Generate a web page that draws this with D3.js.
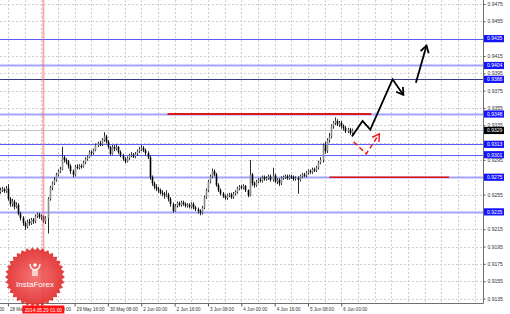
<!DOCTYPE html>
<html>
<head>
<meta charset="utf-8">
<script src="https://cdn.jsdelivr.net/npm/d3@7"></script>
<style>
  body { margin: 0; background: #fff; }
  svg { display: block; font-family: "Liberation Sans", Arial, sans-serif; }
</style>
</head>
<body>
<svg id="chart" width="510" height="314"></svg>
<script>

// ---- data (prices in pips above 0.9000, time in trading hours from 28 May 00:00) ----
const firstHour = 4;
const firstOpen = 258;

const closes = [260,261,259,262,250,244,247,241,243,233, 228,222,218,224,222,226,224,230,232,229,
  230,224,228,250,263,268,272,278,282,284, 298,295,293,288,282,278,287,286,288,287,
  292,296,298,304,303,306,312,314,313,318, 322,316,310,302,310,308,310,304,300,296,
  293,297,300,301,299,302,305,307,309,306, 303,298,275,268,264,262,260,257,256,254,
  255,250,244,236,242,245,243,246,244,242, 243,241,244,240,238,236,234,240,252,260,
  270,276,282,278,266,260,256,253,251,254, 255,252,256,258,262,264,263,265,260,254,
  278,268,266,270,272,271,275,273,274,276, 272,277,270,272,268,274,275,276,274,276,
  275,273,274,272,276,278,277,280,282,281, 284,283,286,292,295,312,305,318,322,334,
  338,340,336,338,334,332,328,330,326,329];

const highs = [263,264,263,265,267,252,250,249,246,245, 235,230,224,226,227,228,228,232,234,234,
  232,231,230,252,265,270,275,280,284,287, 310,300,297,295,290,284,289,290,290,290,
  294,298,300,306,306,308,314,316,317,320, 327,324,318,311,312,312,313,311,306,302,
  298,299,302,304,303,304,307,310,312,311, 308,305,300,277,270,267,264,262,260,258,
  260,257,252,246,244,247,247,248,248,246, 245,245,246,246,242,240,238,242,254,262,
  272,278,285,284,280,268,262,258,255,256, 257,257,258,260,264,266,266,267,266,261,
  295,280,270,272,274,275,277,277,276,278, 278,286,279,274,274,276,277,278,278,278,
  278,277,276,276,278,280,280,282,284,284, 286,286,288,294,298,314,316,320,326,336,
  340,344,342,340,340,336,334,332,332,331];

const lows = [256,258,257,257,248,241,241,238,239,231, 225,219,214,216,219,220,221,222,228,227,
  226,222,221,210,248,260,266,270,276,280, 283,292,290,285,279,275,276,284,284,285,
  286,290,294,297,300,301,305,310,311,311, 316,314,308,300,301,305,306,302,298,294,
  291,292,295,298,297,297,300,303,305,304, 300,296,272,265,261,259,257,255,253,250,
  252,247,241,234,235,240,241,241,242,240, 240,239,239,238,236,233,231,232,238,250,
  258,268,274,276,264,258,254,251,249,249, 252,250,250,254,256,260,261,261,258,252,
  253,265,263,264,268,269,269,271,271,272, 270,270,268,267,265,266,272,273,272,272,
  273,271,271,256,270,274,275,275,278,279, 279,281,281,284,290,292,302,303,315,320,
  331,335,334,333,331,329,326,326,324,324];

const levelsStrong = [435, 313, 301];
const levelsDark = [388];
const levelsSoft = [404, 348, 275, 235];
const currentPrice = 329;

const markerHour = 25;
const markerLabel = "2014.05.29 01:00";

const redLevelSegments = [
  { from: 84.6, to: 182.4, level: 348 },
  { from: 162.3, to: 219.7, level: 275 }
];

const forecastMain = [[173.1, 322], [178.2, 340], [181.9, 330], [192.6, 388], [197.8, 370]];
const forecastNext = [[203.8, 384], [208.9, 427]];
const forecastAlt = [[173.9, 316], [180, 302], [186.2, 325]];

const yTickValues = [0.9135,0.9155,0.9175,0.9195,0.9215,0.9235,0.9255,0.9275,0.9295,
  0.9315,0.9335,0.9355,0.9375,0.9395,0.9415,0.9435,0.9455,0.9475];

const xTickHours = [-8, 8, 24, 40, 56, 72, 88, 104, 120, 136, 152, 168];
const xTickLabels = ["27 May 16:00","28 May 08:00","29 May 00:00","29 May 16:00","30 May 08:00",
  "2 Jun 00:00","2 Jun 16:00","3 Jun 08:00","4 Jun 00:00","4 Jun 16:00","5 Jun 08:00","6 Jun 00:00"];

// ---- setup ----
const plotRight = 483.5;
const plotBottom = 303.5;

const price = pips => 0.9 + pips / 10000;

const xScale = d3.scaleLinear().domain([4.2, 236]).range([0, 483]);
const yScale = d3.scaleLinear().domain([0.9135, 0.9475]).range([298.5, 4]);

const svg = d3.select("#chart");

// clip for the plot area
svg.append("clipPath")
    .attr("id", "plot-clip")
  .append("rect")
    .attr("x", 0)
    .attr("y", 0)
    .attr("width", plotRight)
    .attr("height", plotBottom);

const plot = svg.append("g").attr("clip-path", "url(#plot-clip)");

// grid: every 8 hours and every 20 pips
const gridHours = d3.range(-8, 240, 8);
plot.append("g")
  .selectAll("line")
  .data(gridHours)
  .join("line")
    .attr("x1", d => Math.round(xScale(d)) + 0.5)
    .attr("x2", d => Math.round(xScale(d)) + 0.5)
    .attr("y1", 0)
    .attr("y2", plotBottom)
    .attr("stroke", "#cfcfcf")
    .attr("stroke-dasharray", "2 2");

plot.append("g")
  .selectAll("line")
  .data(yTickValues)
  .join("line")
    .attr("x1", 0)
    .attr("x2", plotRight)
    .attr("y1", d => Math.round(yScale(d)) + 0.5)
    .attr("y2", d => Math.round(yScale(d)) + 0.5)
    .attr("stroke", "#cfcfcf")
    .attr("stroke-dasharray", "2 2");

// horizontal levels
const hLine = (g, data, color, width) => g.append("g")
  .selectAll("line")
  .data(data)
  .join("line")
    .attr("x1", 0)
    .attr("x2", plotRight)
    .attr("y1", d => Math.round(yScale(price(d))) + 0.5)
    .attr("y2", d => Math.round(yScale(price(d))) + 0.5)
    .attr("stroke", color)
    .attr("stroke-width", width);

hLine(plot, [currentPrice], "#c4c4c4", 1);
hLine(plot, levelsSoft, "#a4a4ff", 1.8);
hLine(plot, levelsStrong, "#5c5cff", 1);
hLine(plot, levelsDark, "#3a3a8a", 1);

// candles
const bars = closes.map((c, i) => ({
  h: firstHour + i,
  o: i === 0 ? firstOpen : closes[i - 1],
  c: c,
  hi: highs[i],
  lo: lows[i]
}));

const candles = plot.append("g").attr("class", "candles");

candles.selectAll("line")
  .data(bars)
  .join("line")
    .attr("x1", d => Math.round(xScale(d.h)) + 0.5)
    .attr("x2", d => Math.round(xScale(d.h)) + 0.5)
    .attr("y1", d => yScale(price(d.hi)))
    .attr("y2", d => yScale(price(d.lo)))
    .attr("stroke", "#2a2a2a")
    .attr("stroke-width", 1);

candles.selectAll("rect")
  .data(bars)
  .join("rect")
    .attr("x", d => Math.round(xScale(d.h)) - 0.3)
    .attr("width", 1.6)
    .attr("y", d => yScale(price(Math.max(d.o, d.c))))
    .attr("height", d => Math.max(1, yScale(price(Math.min(d.o, d.c))) - yScale(price(Math.max(d.o, d.c)))))
    .attr("fill", d => d.c >= d.o ? "#8a8a8a" : "#000");

// red vertical marker
plot.append("line")
    .attr("x1", xScale(markerHour))
    .attr("x2", xScale(markerHour))
    .attr("y1", 0)
    .attr("y2", plotBottom)
    .attr("stroke", "#ff6060")
    .attr("stroke-opacity", 0.55)
    .attr("stroke-width", 2);

// red level segments
plot.append("g")
  .selectAll("line")
  .data(redLevelSegments)
  .join("line")
    .attr("x1", d => xScale(d.from))
    .attr("x2", d => xScale(d.to))
    .attr("y1", d => yScale(price(d.level)))
    .attr("y2", d => yScale(price(d.level)))
    .attr("stroke", "#e01414")
    .attr("stroke-width", (d, i) => i === 0 ? 2.2 : 1.6);

// forecast arrows
const toPx = d => [xScale(d[0]), yScale(price(d[1]))];
const line = d3.line();

const arrowHead = (pts, len, ang) => {
  const p0 = pts[pts.length - 2];
  const p1 = pts[pts.length - 1];
  const a = Math.atan2(p1[1] - p0[1], p1[0] - p0[0]);
  return [
    [p1[0] - len * Math.cos(a - ang), p1[1] - len * Math.sin(a - ang)],
    p1,
    [p1[0] - len * Math.cos(a + ang), p1[1] - len * Math.sin(a + ang)]
  ];
};

const drawArrow = (data, color, width, dash) => {
  const pts = data.map(toPx);
  plot.append("path")
      .attr("d", line(pts))
      .attr("fill", "none")
      .attr("stroke", color)
      .attr("stroke-width", width)
      .attr("stroke-linejoin", "miter")
      .attr("stroke-dasharray", dash);
  plot.append("path")
      .attr("d", line(arrowHead(pts, 8, 0.55)))
      .attr("fill", "none")
      .attr("stroke", color)
      .attr("stroke-width", width);
};

drawArrow(forecastMain, "#000", 1.8, null);
drawArrow(forecastNext, "#000", 1.8, null);
drawArrow(forecastAlt, "#f01010", 1.4, "5 3");

// frame
svg.append("path")
    .attr("d", `M0,${plotBottom}H${plotRight}V0`)
    .attr("fill", "none")
    .attr("stroke", "#707070");

// InstaForex logo
const logo = svg.append("g").attr("transform", "translate(35,277)");
const grad = svg.append("defs").append("radialGradient").attr("id", "logo-grad");
grad.append("stop").attr("offset", "0%").attr("stop-color", "#f46a6a");
grad.append("stop").attr("offset", "100%").attr("stop-color", "#e02a2a");

const teeth = 34;
const starPts = d3.range(teeth * 2).map(k => {
  const r = k % 2 === 0 ? 30 : 27;
  const a = (k / (teeth * 2)) * Math.PI * 2;
  return [r * Math.cos(a), r * Math.sin(a)];
});
logo.append("path")
    .attr("d", d3.line()(starPts) + "Z")
    .attr("fill", "url(#logo-grad)")
    .attr("opacity", 0.92);

const icon = logo.append("g").attr("fill", "none").attr("stroke", "#fff").attr("stroke-width", 1.3);
icon.append("circle").attr("cx", 0).attr("cy", -12).attr("r", 1.8).attr("fill", "#fff").attr("stroke", "none");
icon.append("path").attr("d", "M-5,-13 Q-5,-8 0,-7 Q5,-8 5,-13");
icon.append("path").attr("d", "M-2,-7 L-2,-1 M2,-7 L2,-1 M0,-7 L0,-1");
logo.append("text")
    .attr("x", 0)
    .attr("y", 10)
    .attr("text-anchor", "middle")
    .attr("fill", "#fff")
    .attr("font-size", 8)
    .text("InstaForex");

// x axis
const xAxis = svg.append("g")
    .attr("transform", `translate(0,${plotBottom})`)
    .call(d3.axisBottom(xScale)
      .tickValues(xTickHours)
      .tickFormat((d, i) => xTickLabels[i])
      .tickSize(3)
      .tickPadding(1));
xAxis.select(".domain").remove();
xAxis.selectAll(".tick line").attr("stroke", "#555");
xAxis.selectAll(".tick text")
    .attr("text-anchor", "start")
    .attr("dx", 1.5)
    .attr("font-size", 4.6)
    .attr("fill", "#333")
    .attr("font-family", "Liberation Sans, Arial, sans-serif");

// marker label
const mx = xScale(markerHour);
svg.append("rect")
    .attr("x", mx - 21)
    .attr("y", 305.5)
    .attr("width", 42)
    .attr("height", 8)
    .attr("fill", "#ff1010");
svg.append("text")
    .attr("x", mx)
    .attr("y", 311.6)
    .attr("text-anchor", "middle")
    .attr("fill", "#fff")
    .attr("font-size", 4.8)
    .text(markerLabel);

// y axis
const yAxis = svg.append("g")
    .attr("transform", `translate(${plotRight},0)`)
    .call(d3.axisRight(yScale)
      .tickValues(yTickValues)
      .tickFormat(d3.format(".4f"))
      .tickSize(2)
      .tickPadding(2));
yAxis.select(".domain").remove();
yAxis.selectAll(".tick line").attr("stroke", "#555");
yAxis.selectAll(".tick text")
    .attr("font-size", 5)
    .attr("fill", "#333")
    .attr("font-family", "Liberation Sans, Arial, sans-serif");

// price boxes on the axis
const boxData = levelsStrong.concat(levelsDark, levelsSoft).map(v => ({ v, fill: "#1414ff" }))
  .concat([{ v: currentPrice, fill: "#000" }]);

const boxes = svg.append("g")
  .selectAll("g")
  .data(boxData)
  .join("g")
    .attr("transform", d => `translate(${plotRight + 0.5},${yScale(price(d.v))})`);

boxes.append("rect")
    .attr("x", 0)
    .attr("y", -3.6)
    .attr("width", 20)
    .attr("height", 7.2)
    .attr("fill", d => d.fill);

boxes.append("text")
    .attr("x", 3)
    .attr("y", 1.8)
    .attr("fill", "#fff")
    .attr("font-size", 5)
    .text(d => d3.format(".4f")(price(d.v)));

</script>
</body>
</html>
